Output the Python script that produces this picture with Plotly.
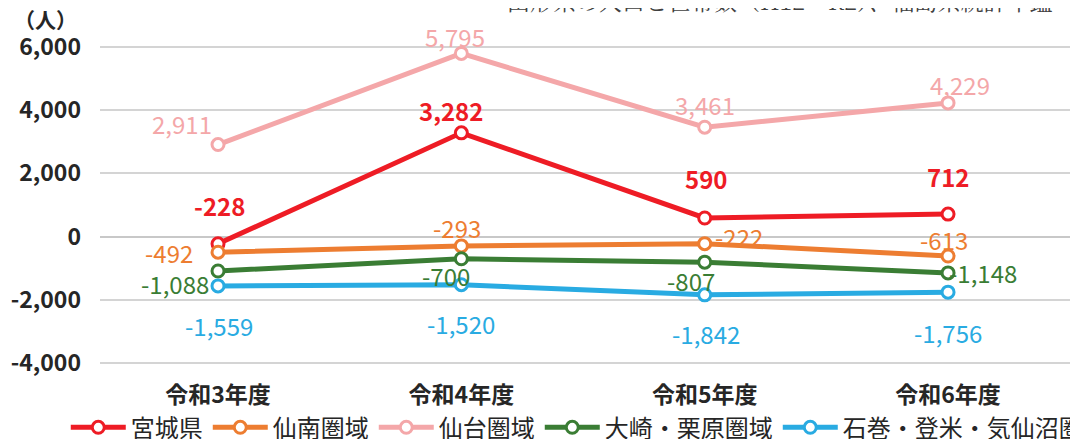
import plotly.graph_objects as go

# data
categories = ["令和3年度", "令和4年度", "令和5年度", "令和6年度"]

miyagi = [-228, 3282, 590, 712]
sennan = [-492, -293, -222, -613]
sendai = [2911, 5795, 3461, 4229]
osaki_kurihara = [-1088, -700, -807, -1148]
ishinomaki_tome_kesennuma = [-1559, -1520, -1842, -1756]

y_ticks = [-4000, -2000, 0, 2000, 4000, 6000]

# label offsets (dx, dy up) in pixels for each series
miyagi_lbl = [(1, 38), (-10, 22), (1, 39), (0, 38)]
sennan_lbl = [(-49, 0), (-4, 18), (34, 7), (-4, 17)]
sendai_lbl = [(-36, 21), (-6, 17), (0, 23), (12, 18)]
osaki_lbl = [(-43, -12), (-15, -17), (-14, -18), (35, 0)]
ishi_lbl = [(1, -40), (0, -39), (1, -39), (0, -40)]

FONT = "Noto Sans CJK JP, Noto Sans, sans-serif"

series = [
    ("宮城県", miyagi, "#EE1C25", miyagi_lbl, "bold"),
    ("仙南圏域", sennan, "#ED7D31", sennan_lbl, "normal"),
    ("仙台圏域", sendai, "#F4A7A9", sendai_lbl, "normal"),
    ("大崎・栗原圏域", osaki_kurihara, "#3A7D34", osaki_lbl, "normal"),
    ("石巻・登米・気仙沼圏域", ishinomaki_tome_kesennuma, "#29ABE2", ishi_lbl, "normal"),
]

fig = go.Figure()
annotations = []

for name, vals, color, offs, weight in series:
    fig.add_trace(go.Scatter(
        x=categories, y=vals, name=name, mode="lines+markers",
        line=dict(color=color, width=5),
        marker=dict(symbol="circle", size=12, color="white",
                    line=dict(color=color, width=3)),
        hoverinfo="skip",
    ))
    for c, v, (dx, dy) in zip(categories, vals, offs):
        annotations.append(dict(
            x=c, y=v, xref="x", yref="y", text=f"{v:,}", showarrow=False,
            xshift=dx, yshift=dy,
            font=dict(family=FONT, size=24, color=color, weight=weight),
        ))

# unit label and the source note cut off at the top
annotations.append(dict(
    x=-0.056, y=1, xref="paper", yref="paper", yshift=26, text="（人）",
    showarrow=False, xanchor="center", yanchor="middle",
    font=dict(family=FONT, size=21, color="#262626", weight="bold"),
))
annotations.append(dict(
    x=0.414, y=1, xref="paper", yref="paper", yshift=45,
    text="山形県の人口と世帯数（H12〜R2）、福島県統計年鑑",
    showarrow=False, xanchor="left", yanchor="middle",
    font=dict(family="Noto Serif CJK JP, " + FONT, size=23, color="#404040"),
))

# page body has an 8px margin, so the figure is 8px smaller than the window
fig.update_layout(
    width=1070, height=431,
    margin=dict(l=92, r=0, t=37, b=74, autoexpand=False),
    paper_bgcolor="white", plot_bgcolor="white",
    font=dict(family=FONT, color="#262626"),
    showlegend=True,
    legend=dict(
        orientation="h", x=-0.035, xanchor="left", y=-0.196, yanchor="middle",
        font=dict(family=FONT, size=24, color="#262626"),
        itemwidth=55, bgcolor="rgba(0,0,0,0)",
    ),
    annotations=annotations,
)

fig.update_xaxes(
    type="category", range=[-0.485, 3.534], showgrid=False, showline=False,
    zeroline=False, ticks="", automargin=False, ticklabelstandoff=14,
    tickfont=dict(family=FONT, size=23, color="#262626", weight="bold"),
)
# range padded a little so the 6,000 and -4,000 gridlines are still drawn
fig.update_yaxes(
    range=[-4060, 6060], tickvals=y_ticks,
    ticktext=[f"{v:,}" for v in y_ticks],
    showgrid=True, gridcolor="#D4D4D4", gridwidth=2,
    zeroline=True, zerolinecolor="#C8C8C8", zerolinewidth=2,
    automargin=False, ticklabelstandoff=18,
    tickfont=dict(family=FONT, size=23, color="#262626", weight="bold"),
)

fig.write_html("out.html")
